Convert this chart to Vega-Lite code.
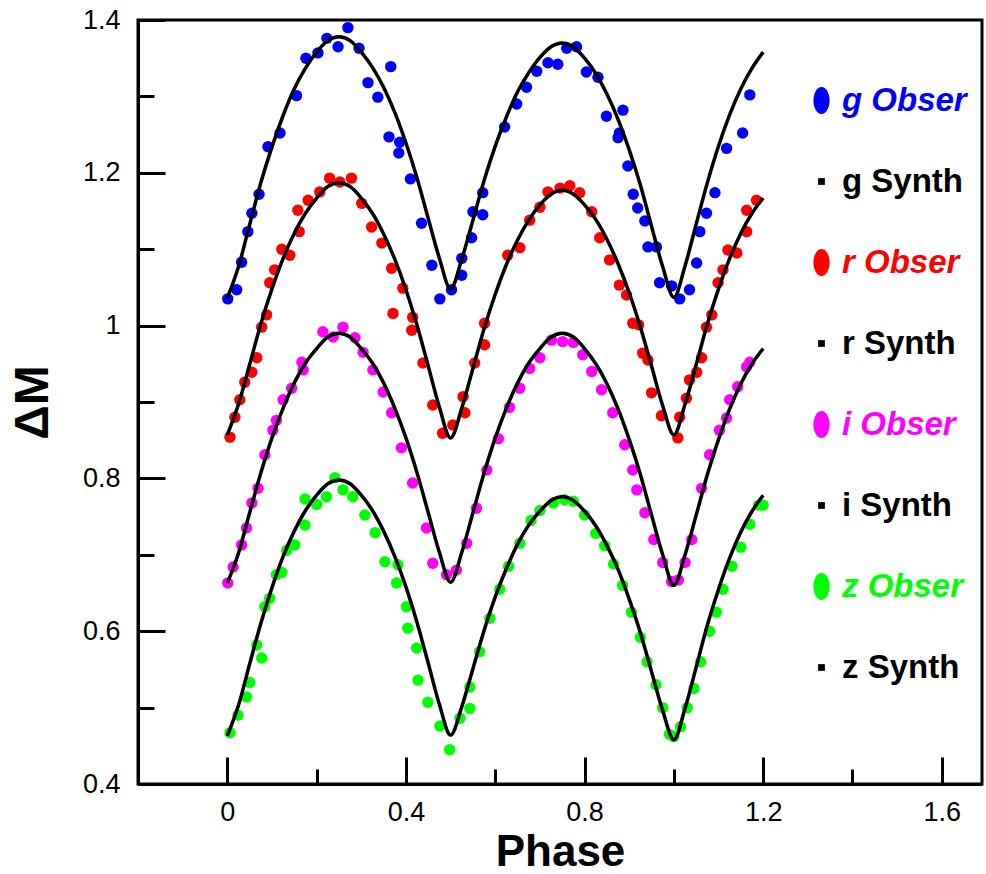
{
"$schema": "https://vega.github.io/schema/vega-lite/v6.json",
"width": 844, "height": 764,
"autosize": {"type": "none"},
"padding": {"left": 138, "top": 20, "right": 4, "bottom": 90},
"background": "white",
"config": {"view": {"stroke": "black", "strokeWidth": 3}},
"datasets": {
"obs": [
{"series":"g Obser","phase":0.001,"dm":1.035},{"series":"g Obser","phase":0.021,"dm":1.047},{"series":"g Obser","phase":0.032,"dm":1.083},{"series":"g Obser","phase":0.046,"dm":1.123},{"series":"g Obser","phase":0.055,"dm":1.147},{"series":"g Obser","phase":0.071,"dm":1.172},{"series":"g Obser","phase":0.091,"dm":1.234},{"series":"g Obser","phase":0.118,"dm":1.252},{"series":"g Obser","phase":0.155,"dm":1.301},{"series":"g Obser","phase":0.176,"dm":1.350},{"series":"g Obser","phase":0.203,"dm":1.357},{"series":"g Obser","phase":0.223,"dm":1.376},{"series":"g Obser","phase":0.248,"dm":1.365},{"series":"g Obser","phase":0.270,"dm":1.390},{"series":"g Obser","phase":0.295,"dm":1.363},{"series":"g Obser","phase":0.315,"dm":1.318},{"series":"g Obser","phase":0.337,"dm":1.299},{"series":"g Obser","phase":0.362,"dm":1.247},{"series":"g Obser","phase":0.366,"dm":1.339},{"series":"g Obser","phase":0.384,"dm":1.226},{"series":"g Obser","phase":0.386,"dm":1.240},{"series":"g Obser","phase":0.410,"dm":1.192},{"series":"g Obser","phase":0.435,"dm":1.134},{"series":"g Obser","phase":0.458,"dm":1.079},{"series":"g Obser","phase":0.476,"dm":1.035},{"series":"g Obser","phase":0.502,"dm":1.047},{"series":"g Obser","phase":0.525,"dm":1.066},{"series":"g Obser","phase":0.525,"dm":1.088},{"series":"g Obser","phase":0.547,"dm":1.115},{"series":"g Obser","phase":0.550,"dm":1.149},{"series":"g Obser","phase":0.572,"dm":1.145},{"series":"g Obser","phase":0.572,"dm":1.174},{"series":"g Obser","phase":0.621,"dm":1.260},{"series":"g Obser","phase":0.648,"dm":1.290},{"series":"g Obser","phase":0.670,"dm":1.312},{"series":"g Obser","phase":0.693,"dm":1.333},{"series":"g Obser","phase":0.718,"dm":1.344},{"series":"g Obser","phase":0.740,"dm":1.342},{"series":"g Obser","phase":0.760,"dm":1.363},{"series":"g Obser","phase":0.782,"dm":1.365},{"series":"g Obser","phase":0.804,"dm":1.332},{"series":"g Obser","phase":0.830,"dm":1.325},{"series":"g Obser","phase":0.849,"dm":1.274},{"series":"g Obser","phase":0.875,"dm":1.246},{"series":"g Obser","phase":0.878,"dm":1.252},{"series":"g Obser","phase":0.886,"dm":1.282},{"series":"g Obser","phase":0.897,"dm":1.209},{"series":"g Obser","phase":0.909,"dm":1.172},{"series":"g Obser","phase":0.919,"dm":1.154},{"series":"g Obser","phase":0.935,"dm":1.137},{"series":"g Obser","phase":0.942,"dm":1.103},{"series":"g Obser","phase":0.961,"dm":1.103},{"series":"g Obser","phase":0.968,"dm":1.056},{"series":"g Obser","phase":0.995,"dm":1.052},{"series":"g Obser","phase":1.013,"dm":1.035},{"series":"g Obser","phase":1.035,"dm":1.047},{"series":"g Obser","phase":1.051,"dm":1.082},{"series":"g Obser","phase":1.058,"dm":1.123},{"series":"g Obser","phase":1.073,"dm":1.147},{"series":"g Obser","phase":1.092,"dm":1.174},{"series":"g Obser","phase":1.118,"dm":1.232},{"series":"g Obser","phase":1.154,"dm":1.252},{"series":"g Obser","phase":1.170,"dm":1.302},
{"series":"r Obser","phase":0.006,"dm":0.854},{"series":"r Obser","phase":0.017,"dm":0.880},{"series":"r Obser","phase":0.028,"dm":0.903},{"series":"r Obser","phase":0.039,"dm":0.926},{"series":"r Obser","phase":0.055,"dm":0.939},{"series":"r Obser","phase":0.066,"dm":0.958},{"series":"r Obser","phase":0.077,"dm":0.998},{"series":"r Obser","phase":0.088,"dm":1.014},{"series":"r Obser","phase":0.095,"dm":1.056},{"series":"r Obser","phase":0.106,"dm":1.073},{"series":"r Obser","phase":0.122,"dm":1.100},{"series":"r Obser","phase":0.140,"dm":1.092},{"series":"r Obser","phase":0.158,"dm":1.151},{"series":"r Obser","phase":0.161,"dm":1.123},{"series":"r Obser","phase":0.181,"dm":1.164},{"series":"r Obser","phase":0.207,"dm":1.175},{"series":"r Obser","phase":0.229,"dm":1.193},{"series":"r Obser","phase":0.252,"dm":1.188},{"series":"r Obser","phase":0.278,"dm":1.193},{"series":"r Obser","phase":0.301,"dm":1.160},{"series":"r Obser","phase":0.323,"dm":1.129},{"series":"r Obser","phase":0.346,"dm":1.108},{"series":"r Obser","phase":0.368,"dm":1.075},{"series":"r Obser","phase":0.371,"dm":1.016},{"series":"r Obser","phase":0.393,"dm":1.049},{"series":"r Obser","phase":0.413,"dm":0.994},{"series":"r Obser","phase":0.415,"dm":1.011},{"series":"r Obser","phase":0.438,"dm":0.951},{"series":"r Obser","phase":0.460,"dm":0.896},{"series":"r Obser","phase":0.482,"dm":0.859},{"series":"r Obser","phase":0.505,"dm":0.870},{"series":"r Obser","phase":0.528,"dm":0.907},{"series":"r Obser","phase":0.532,"dm":0.886},{"series":"r Obser","phase":0.554,"dm":0.951},{"series":"r Obser","phase":0.576,"dm":0.975},{"series":"r Obser","phase":0.576,"dm":1.003},{"series":"r Obser","phase":0.628,"dm":1.092},{"series":"r Obser","phase":0.655,"dm":1.102},{"series":"r Obser","phase":0.677,"dm":1.138},{"series":"r Obser","phase":0.700,"dm":1.155},{"series":"r Obser","phase":0.718,"dm":1.175},{"series":"r Obser","phase":0.745,"dm":1.180},{"series":"r Obser","phase":0.767,"dm":1.183},{"series":"r Obser","phase":0.789,"dm":1.174},{"series":"r Obser","phase":0.816,"dm":1.149},{"series":"r Obser","phase":0.834,"dm":1.115},{"series":"r Obser","phase":0.856,"dm":1.086},{"series":"r Obser","phase":0.878,"dm":1.053},{"series":"r Obser","phase":0.894,"dm":1.040},{"series":"r Obser","phase":0.908,"dm":1.003},{"series":"r Obser","phase":0.921,"dm":1.001},{"series":"r Obser","phase":0.930,"dm":0.964},{"series":"r Obser","phase":0.942,"dm":0.955},{"series":"r Obser","phase":0.950,"dm":0.912},{"series":"r Obser","phase":0.972,"dm":0.882},{"series":"r Obser","phase":1.009,"dm":0.853},{"series":"r Obser","phase":1.013,"dm":0.880},{"series":"r Obser","phase":1.028,"dm":0.905},{"series":"r Obser","phase":1.035,"dm":0.929},{"series":"r Obser","phase":1.051,"dm":0.939},{"series":"r Obser","phase":1.062,"dm":0.958},{"series":"r Obser","phase":1.073,"dm":0.998},{"series":"r Obser","phase":1.085,"dm":1.014},{"series":"r Obser","phase":1.099,"dm":1.056},{"series":"r Obser","phase":1.110,"dm":1.073},{"series":"r Obser","phase":1.121,"dm":1.099},{"series":"r Obser","phase":1.141,"dm":1.095},{"series":"r Obser","phase":1.163,"dm":1.123},{"series":"r Obser","phase":1.163,"dm":1.151},{"series":"r Obser","phase":1.185,"dm":1.164},
{"series":"i Obser","phase":0.001,"dm":0.663},{"series":"i Obser","phase":0.013,"dm":0.684},{"series":"i Obser","phase":0.032,"dm":0.713},{"series":"i Obser","phase":0.043,"dm":0.735},{"series":"i Obser","phase":0.055,"dm":0.768},{"series":"i Obser","phase":0.069,"dm":0.787},{"series":"i Obser","phase":0.084,"dm":0.831},{"series":"i Obser","phase":0.102,"dm":0.863},{"series":"i Obser","phase":0.110,"dm":0.876},{"series":"i Obser","phase":0.125,"dm":0.903},{"series":"i Obser","phase":0.144,"dm":0.918},{"series":"i Obser","phase":0.167,"dm":0.952},{"series":"i Obser","phase":0.170,"dm":0.942},{"series":"i Obser","phase":0.214,"dm":0.992},{"series":"i Obser","phase":0.237,"dm":0.985},{"series":"i Obser","phase":0.259,"dm":0.998},{"series":"i Obser","phase":0.286,"dm":0.984},{"series":"i Obser","phase":0.304,"dm":0.965},{"series":"i Obser","phase":0.326,"dm":0.942},{"series":"i Obser","phase":0.349,"dm":0.913},{"series":"i Obser","phase":0.368,"dm":0.886},{"series":"i Obser","phase":0.390,"dm":0.840},{"series":"i Obser","phase":0.415,"dm":0.794},{"series":"i Obser","phase":0.446,"dm":0.735},{"series":"i Obser","phase":0.460,"dm":0.689},{"series":"i Obser","phase":0.491,"dm":0.674},{"series":"i Obser","phase":0.513,"dm":0.680},{"series":"i Obser","phase":0.536,"dm":0.715},{"series":"i Obser","phase":0.558,"dm":0.761},{"series":"i Obser","phase":0.581,"dm":0.811},{"series":"i Obser","phase":0.607,"dm":0.852},{"series":"i Obser","phase":0.632,"dm":0.893},{"series":"i Obser","phase":0.655,"dm":0.918},{"series":"i Obser","phase":0.677,"dm":0.944},{"series":"i Obser","phase":0.700,"dm":0.958},{"series":"i Obser","phase":0.726,"dm":0.981},{"series":"i Obser","phase":0.751,"dm":0.979},{"series":"i Obser","phase":0.775,"dm":0.978},{"series":"i Obser","phase":0.796,"dm":0.962},{"series":"i Obser","phase":0.816,"dm":0.940},{"series":"i Obser","phase":0.838,"dm":0.916},{"series":"i Obser","phase":0.863,"dm":0.886},{"series":"i Obser","phase":0.890,"dm":0.844},{"series":"i Obser","phase":0.908,"dm":0.811},{"series":"i Obser","phase":0.917,"dm":0.785},{"series":"i Obser","phase":0.935,"dm":0.755},{"series":"i Obser","phase":0.955,"dm":0.720},{"series":"i Obser","phase":0.975,"dm":0.690},{"series":"i Obser","phase":0.995,"dm":0.665},{"series":"i Obser","phase":1.010,"dm":0.667},{"series":"i Obser","phase":1.025,"dm":0.690},{"series":"i Obser","phase":1.040,"dm":0.720},{"series":"i Obser","phase":1.062,"dm":0.787},{"series":"i Obser","phase":1.080,"dm":0.831},{"series":"i Obser","phase":1.102,"dm":0.863},{"series":"i Obser","phase":1.118,"dm":0.879},{"series":"i Obser","phase":1.125,"dm":0.903},{"series":"i Obser","phase":1.143,"dm":0.920},{"series":"i Obser","phase":1.163,"dm":0.946},{"series":"i Obser","phase":1.170,"dm":0.952},
{"series":"z Obser","phase":0.006,"dm":0.467},{"series":"z Obser","phase":0.024,"dm":0.490},{"series":"z Obser","phase":0.043,"dm":0.514},{"series":"z Obser","phase":0.050,"dm":0.533},{"series":"z Obser","phase":0.066,"dm":0.582},{"series":"z Obser","phase":0.077,"dm":0.565},{"series":"z Obser","phase":0.084,"dm":0.632},{"series":"z Obser","phase":0.095,"dm":0.643},{"series":"z Obser","phase":0.110,"dm":0.674},{"series":"z Obser","phase":0.122,"dm":0.677},{"series":"z Obser","phase":0.133,"dm":0.706},{"series":"z Obser","phase":0.151,"dm":0.713},{"series":"z Obser","phase":0.174,"dm":0.739},{"series":"z Obser","phase":0.174,"dm":0.773},{"series":"z Obser","phase":0.200,"dm":0.766},{"series":"z Obser","phase":0.222,"dm":0.776},{"series":"z Obser","phase":0.241,"dm":0.801},{"series":"z Obser","phase":0.259,"dm":0.785},{"series":"z Obser","phase":0.281,"dm":0.776},{"series":"z Obser","phase":0.308,"dm":0.752},{"series":"z Obser","phase":0.331,"dm":0.729},{"series":"z Obser","phase":0.353,"dm":0.691},{"series":"z Obser","phase":0.379,"dm":0.663},{"series":"z Obser","phase":0.382,"dm":0.687},{"series":"z Obser","phase":0.401,"dm":0.632},{"series":"z Obser","phase":0.404,"dm":0.604},{"series":"z Obser","phase":0.424,"dm":0.578},{"series":"z Obser","phase":0.427,"dm":0.536},{"series":"z Obser","phase":0.449,"dm":0.507},{"series":"z Obser","phase":0.476,"dm":0.476},{"series":"z Obser","phase":0.498,"dm":0.445},{"series":"z Obser","phase":0.521,"dm":0.486},{"series":"z Obser","phase":0.543,"dm":0.499},{"series":"z Obser","phase":0.543,"dm":0.527},{"series":"z Obser","phase":0.565,"dm":0.573},{"series":"z Obser","phase":0.588,"dm":0.617},{"series":"z Obser","phase":0.610,"dm":0.655},{"series":"z Obser","phase":0.630,"dm":0.685},{"series":"z Obser","phase":0.655,"dm":0.715},{"series":"z Obser","phase":0.680,"dm":0.745},{"series":"z Obser","phase":0.700,"dm":0.758},{"series":"z Obser","phase":0.730,"dm":0.768},{"series":"z Obser","phase":0.755,"dm":0.772},{"series":"z Obser","phase":0.775,"dm":0.770},{"series":"z Obser","phase":0.800,"dm":0.752},{"series":"z Obser","phase":0.825,"dm":0.728},{"series":"z Obser","phase":0.845,"dm":0.712},{"series":"z Obser","phase":0.865,"dm":0.688},{"series":"z Obser","phase":0.885,"dm":0.660},{"series":"z Obser","phase":0.905,"dm":0.625},{"series":"z Obser","phase":0.925,"dm":0.592},{"series":"z Obser","phase":0.940,"dm":0.560},{"series":"z Obser","phase":0.960,"dm":0.530},{"series":"z Obser","phase":0.975,"dm":0.500},{"series":"z Obser","phase":0.990,"dm":0.465},{"series":"z Obser","phase":1.000,"dm":0.462},{"series":"z Obser","phase":1.015,"dm":0.475},{"series":"z Obser","phase":1.030,"dm":0.500},{"series":"z Obser","phase":1.045,"dm":0.525},{"series":"z Obser","phase":1.060,"dm":0.560},{"series":"z Obser","phase":1.080,"dm":0.600},{"series":"z Obser","phase":1.095,"dm":0.625},{"series":"z Obser","phase":1.110,"dm":0.655},{"series":"z Obser","phase":1.130,"dm":0.685},{"series":"z Obser","phase":1.150,"dm":0.710},{"series":"z Obser","phase":1.170,"dm":0.740},{"series":"z Obser","phase":1.190,"dm":0.765},{"series":"z Obser","phase":1.200,"dm":0.765}
],
"syn": [
{"series":"g Synth","phase":0,"dm":1.036},{"series":"g Synth","phase":0.025,"dm":1.077},{"series":"g Synth","phase":0.05,"dm":1.132},{"series":"g Synth","phase":0.075,"dm":1.187},{"series":"g Synth","phase":0.1,"dm":1.234},{"series":"g Synth","phase":0.125,"dm":1.275},{"series":"g Synth","phase":0.15,"dm":1.310},{"series":"g Synth","phase":0.175,"dm":1.337},{"series":"g Synth","phase":0.2,"dm":1.358},{"series":"g Synth","phase":0.225,"dm":1.373},{"series":"g Synth","phase":0.25,"dm":1.378},{"series":"g Synth","phase":0.275,"dm":1.373},{"series":"g Synth","phase":0.3,"dm":1.358},{"series":"g Synth","phase":0.325,"dm":1.338},{"series":"g Synth","phase":0.35,"dm":1.312},{"series":"g Synth","phase":0.375,"dm":1.279},{"series":"g Synth","phase":0.4,"dm":1.239},{"series":"g Synth","phase":0.425,"dm":1.193},{"series":"g Synth","phase":0.45,"dm":1.140},{"series":"g Synth","phase":0.475,"dm":1.088},{"series":"g Synth","phase":0.5,"dm":1.048},{"series":"g Synth","phase":0.525,"dm":1.087},{"series":"g Synth","phase":0.55,"dm":1.138},{"series":"g Synth","phase":0.575,"dm":1.190},{"series":"g Synth","phase":0.6,"dm":1.235},{"series":"g Synth","phase":0.625,"dm":1.273},{"series":"g Synth","phase":0.65,"dm":1.306},{"series":"g Synth","phase":0.675,"dm":1.331},{"series":"g Synth","phase":0.7,"dm":1.351},{"series":"g Synth","phase":0.725,"dm":1.365},{"series":"g Synth","phase":0.75,"dm":1.370},{"series":"g Synth","phase":0.775,"dm":1.365},{"series":"g Synth","phase":0.8,"dm":1.350},{"series":"g Synth","phase":0.825,"dm":1.330},{"series":"g Synth","phase":0.85,"dm":1.303},{"series":"g Synth","phase":0.875,"dm":1.270},{"series":"g Synth","phase":0.9,"dm":1.230},{"series":"g Synth","phase":0.925,"dm":1.184},{"series":"g Synth","phase":0.95,"dm":1.130},{"series":"g Synth","phase":0.975,"dm":1.077},{"series":"g Synth","phase":1.0,"dm":1.037},{"series":"g Synth","phase":1.025,"dm":1.078},{"series":"g Synth","phase":1.05,"dm":1.133},{"series":"g Synth","phase":1.075,"dm":1.187},{"series":"g Synth","phase":1.1,"dm":1.235},{"series":"g Synth","phase":1.125,"dm":1.276},{"series":"g Synth","phase":1.15,"dm":1.310},{"series":"g Synth","phase":1.175,"dm":1.337},{"series":"g Synth","phase":1.2,"dm":1.358},
{"series":"r Synth","phase":0,"dm":0.857},{"series":"r Synth","phase":0.025,"dm":0.897},{"series":"r Synth","phase":0.05,"dm":0.949},{"series":"r Synth","phase":0.075,"dm":1.002},{"series":"r Synth","phase":0.1,"dm":1.048},{"series":"r Synth","phase":0.125,"dm":1.088},{"series":"r Synth","phase":0.15,"dm":1.121},{"series":"r Synth","phase":0.175,"dm":1.147},{"series":"r Synth","phase":0.2,"dm":1.167},{"series":"r Synth","phase":0.225,"dm":1.182},{"series":"r Synth","phase":0.25,"dm":1.187},{"series":"r Synth","phase":0.275,"dm":1.182},{"series":"r Synth","phase":0.3,"dm":1.167},{"series":"r Synth","phase":0.325,"dm":1.147},{"series":"r Synth","phase":0.35,"dm":1.120},{"series":"r Synth","phase":0.375,"dm":1.087},{"series":"r Synth","phase":0.4,"dm":1.047},{"series":"r Synth","phase":0.425,"dm":1.000},{"series":"r Synth","phase":0.45,"dm":0.947},{"series":"r Synth","phase":0.475,"dm":0.893},{"series":"r Synth","phase":0.5,"dm":0.853},{"series":"r Synth","phase":0.525,"dm":0.892},{"series":"r Synth","phase":0.55,"dm":0.944},{"series":"r Synth","phase":0.575,"dm":0.996},{"series":"r Synth","phase":0.6,"dm":1.041},{"series":"r Synth","phase":0.625,"dm":1.080},{"series":"r Synth","phase":0.65,"dm":1.112},{"series":"r Synth","phase":0.675,"dm":1.138},{"series":"r Synth","phase":0.7,"dm":1.158},{"series":"r Synth","phase":0.725,"dm":1.172},{"series":"r Synth","phase":0.75,"dm":1.177},{"series":"r Synth","phase":0.775,"dm":1.172},{"series":"r Synth","phase":0.8,"dm":1.158},{"series":"r Synth","phase":0.825,"dm":1.139},{"series":"r Synth","phase":0.85,"dm":1.113},{"series":"r Synth","phase":0.875,"dm":1.081},{"series":"r Synth","phase":0.9,"dm":1.043},{"series":"r Synth","phase":0.925,"dm":0.998},{"series":"r Synth","phase":0.95,"dm":0.947},{"series":"r Synth","phase":0.975,"dm":0.895},{"series":"r Synth","phase":1.0,"dm":0.857},{"series":"r Synth","phase":1.025,"dm":0.897},{"series":"r Synth","phase":1.05,"dm":0.949},{"series":"r Synth","phase":1.075,"dm":1.002},{"series":"r Synth","phase":1.1,"dm":1.048},{"series":"r Synth","phase":1.125,"dm":1.088},{"series":"r Synth","phase":1.15,"dm":1.121},{"series":"r Synth","phase":1.175,"dm":1.147},{"series":"r Synth","phase":1.2,"dm":1.167},
{"series":"i Synth","phase":0,"dm":0.663},{"series":"i Synth","phase":0.025,"dm":0.702},{"series":"i Synth","phase":0.05,"dm":0.755},{"series":"i Synth","phase":0.075,"dm":0.807},{"series":"i Synth","phase":0.1,"dm":0.853},{"series":"i Synth","phase":0.125,"dm":0.892},{"series":"i Synth","phase":0.15,"dm":0.925},{"series":"i Synth","phase":0.175,"dm":0.951},{"series":"i Synth","phase":0.2,"dm":0.970},{"series":"i Synth","phase":0.225,"dm":0.985},{"series":"i Synth","phase":0.25,"dm":0.990},{"series":"i Synth","phase":0.275,"dm":0.985},{"series":"i Synth","phase":0.3,"dm":0.970},{"series":"i Synth","phase":0.325,"dm":0.951},{"series":"i Synth","phase":0.35,"dm":0.925},{"series":"i Synth","phase":0.375,"dm":0.892},{"series":"i Synth","phase":0.4,"dm":0.853},{"series":"i Synth","phase":0.425,"dm":0.807},{"series":"i Synth","phase":0.45,"dm":0.755},{"series":"i Synth","phase":0.475,"dm":0.703},{"series":"i Synth","phase":0.5,"dm":0.664},{"series":"i Synth","phase":0.525,"dm":0.703},{"series":"i Synth","phase":0.55,"dm":0.755},{"series":"i Synth","phase":0.575,"dm":0.807},{"series":"i Synth","phase":0.6,"dm":0.853},{"series":"i Synth","phase":0.625,"dm":0.892},{"series":"i Synth","phase":0.65,"dm":0.925},{"series":"i Synth","phase":0.675,"dm":0.951},{"series":"i Synth","phase":0.7,"dm":0.970},{"series":"i Synth","phase":0.725,"dm":0.985},{"series":"i Synth","phase":0.75,"dm":0.990},{"series":"i Synth","phase":0.775,"dm":0.985},{"series":"i Synth","phase":0.8,"dm":0.970},{"series":"i Synth","phase":0.825,"dm":0.950},{"series":"i Synth","phase":0.85,"dm":0.924},{"series":"i Synth","phase":0.875,"dm":0.891},{"series":"i Synth","phase":0.9,"dm":0.851},{"series":"i Synth","phase":0.925,"dm":0.805},{"series":"i Synth","phase":0.95,"dm":0.752},{"series":"i Synth","phase":0.975,"dm":0.700},{"series":"i Synth","phase":1.0,"dm":0.660},{"series":"i Synth","phase":1.025,"dm":0.700},{"series":"i Synth","phase":1.05,"dm":0.752},{"series":"i Synth","phase":1.075,"dm":0.805},{"series":"i Synth","phase":1.1,"dm":0.851},{"series":"i Synth","phase":1.125,"dm":0.891},{"series":"i Synth","phase":1.15,"dm":0.924},{"series":"i Synth","phase":1.175,"dm":0.950},{"series":"i Synth","phase":1.2,"dm":0.970},
{"series":"z Synth","phase":0,"dm":0.463},{"series":"z Synth","phase":0.025,"dm":0.503},{"series":"z Synth","phase":0.05,"dm":0.557},{"series":"z Synth","phase":0.075,"dm":0.610},{"series":"z Synth","phase":0.1,"dm":0.657},{"series":"z Synth","phase":0.125,"dm":0.698},{"series":"z Synth","phase":0.15,"dm":0.731},{"series":"z Synth","phase":0.175,"dm":0.758},{"series":"z Synth","phase":0.2,"dm":0.778},{"series":"z Synth","phase":0.225,"dm":0.793},{"series":"z Synth","phase":0.25,"dm":0.798},{"series":"z Synth","phase":0.275,"dm":0.793},{"series":"z Synth","phase":0.3,"dm":0.778},{"series":"z Synth","phase":0.325,"dm":0.758},{"series":"z Synth","phase":0.35,"dm":0.731},{"series":"z Synth","phase":0.375,"dm":0.698},{"series":"z Synth","phase":0.4,"dm":0.658},{"series":"z Synth","phase":0.425,"dm":0.611},{"series":"z Synth","phase":0.45,"dm":0.558},{"series":"z Synth","phase":0.475,"dm":0.504},{"series":"z Synth","phase":0.5,"dm":0.464},{"series":"z Synth","phase":0.525,"dm":0.501},{"series":"z Synth","phase":0.55,"dm":0.551},{"series":"z Synth","phase":0.575,"dm":0.601},{"series":"z Synth","phase":0.6,"dm":0.645},{"series":"z Synth","phase":0.625,"dm":0.682},{"series":"z Synth","phase":0.65,"dm":0.714},{"series":"z Synth","phase":0.675,"dm":0.739},{"series":"z Synth","phase":0.7,"dm":0.757},{"series":"z Synth","phase":0.725,"dm":0.771},{"series":"z Synth","phase":0.75,"dm":0.776},{"series":"z Synth","phase":0.775,"dm":0.771},{"series":"z Synth","phase":0.8,"dm":0.757},{"series":"z Synth","phase":0.825,"dm":0.738},{"series":"z Synth","phase":0.85,"dm":0.712},{"series":"z Synth","phase":0.875,"dm":0.681},{"series":"z Synth","phase":0.9,"dm":0.642},{"series":"z Synth","phase":0.925,"dm":0.598},{"series":"z Synth","phase":0.95,"dm":0.547},{"series":"z Synth","phase":0.975,"dm":0.496},{"series":"z Synth","phase":1.0,"dm":0.458},{"series":"z Synth","phase":1.025,"dm":0.499},{"series":"z Synth","phase":1.05,"dm":0.553},{"series":"z Synth","phase":1.075,"dm":0.608},{"series":"z Synth","phase":1.1,"dm":0.655},{"series":"z Synth","phase":1.125,"dm":0.696},{"series":"z Synth","phase":1.15,"dm":0.730},{"series":"z Synth","phase":1.175,"dm":0.757},{"series":"z Synth","phase":1.2,"dm":0.778}
]
},
"layer": [
{
"data": {"name": "obs"},
"mark": {"type": "circle", "size": 130, "opacity": 1},
"encoding": {
"x": {"field": "phase", "type": "quantitative", "scale": {"domain": [-0.2, 1.69], "nice": false, "zero": false},
 "axis": {"title": "Phase", "values": [0, 0.4, 0.8, 1.2, 1.6], "format": "~g", "grid": false, "orient": "bottom",
  "tickSize": -27, "tickWidth": 3, "tickColor": "black", "domainColor": "black", "domainWidth": 3,
  "labelFont": "Liberation Sans", "labelFontSize": 27, "labelColor": "black", "labelPadding": 42, "labelFlush": false, "labelOverlap": false,
  "titleFont": "Liberation Sans", "titleFontSize": 44, "titleFontWeight": "bold", "titleColor": "black", "titlePadding": 5}},
"y": {"field": "dm", "type": "quantitative", "scale": {"domain": [0.4, 1.4], "nice": false, "zero": false},
 "axis": {"title": "ΔM", "values": [0.4, 0.6, 0.8, 1, 1.2, 1.4], "format": "~g", "grid": false, "orient": "left",
  "tickSize": -27, "tickWidth": 3, "tickColor": "black", "domainColor": "black", "domainWidth": 3,
  "labelFont": "Liberation Sans", "labelFontSize": 27, "labelColor": "black", "labelPadding": 45, "labelFlush": false, "labelOverlap": false,
  "titleFont": "Liberation Sans", "titleFontSize": 48, "titleFontWeight": "bold", "titleColor": "black", "titlePadding": 25}},
"color": {"field": "series", "type": "nominal",
 "scale": {"domain": ["g Obser","g Synth","r Obser","r Synth","i Obser","i Synth","z Obser","z Synth"],
  "range": ["#0000ff","#000000","#ff0000","#000000","#ff00ff","#000000","#00ff00","#000000"]},
 "legend": {"orient": "none", "legendX": 667, "legendY": 64, "title": null, "padding": 0,
  "labelFont": "Liberation Sans", "labelFontSize": 33, "labelFontWeight": "bold",
  "labelLimit": 400, "rowPadding": 47, "labelOffset": 4, "symbolStrokeWidth": 0, "symbolSize": 729,
  "labelColor": {"expr": "scale('color', datum.value)"},
  "labelFontStyle": {"expr": "indexof(datum.label, 'Obser') >= 0 ? 'italic' : 'normal'"},
  "symbolType": {"expr": "indexof(datum.label, 'Obser') >= 0 ? 'M0,-1A0.6,1 0 1,1 0,1A0.6,1 0 1,1 0,-1Z' : 'M-0.25,-0.25H0.25V0.25H-0.25Z'"}
 }}
}
},
{
"data": {"name": "syn"},
"mark": {"type": "line", "interpolate": "monotone", "strokeWidth": 3.5, "color": "black"},
"encoding": {
"x": {"field": "phase", "type": "quantitative",
 "axis": {"title": null, "values": [0.2, 0.6, 1.0, 1.4], "labels": false, "domain": false, "grid": false, "orient": "bottom",
  "tickSize": -15, "tickWidth": 3, "tickColor": "black"}},
"y": {"field": "dm", "type": "quantitative",
 "axis": {"title": null, "values": [0.5, 0.7, 0.9, 1.1, 1.3], "labels": false, "domain": false, "grid": false, "orient": "left",
  "tickSize": -16, "tickWidth": 3, "tickColor": "black"}},
"detail": {"field": "series", "type": "nominal"}
}
}
],
"resolve": {"axis": {"x": "independent", "y": "independent"}}
}
